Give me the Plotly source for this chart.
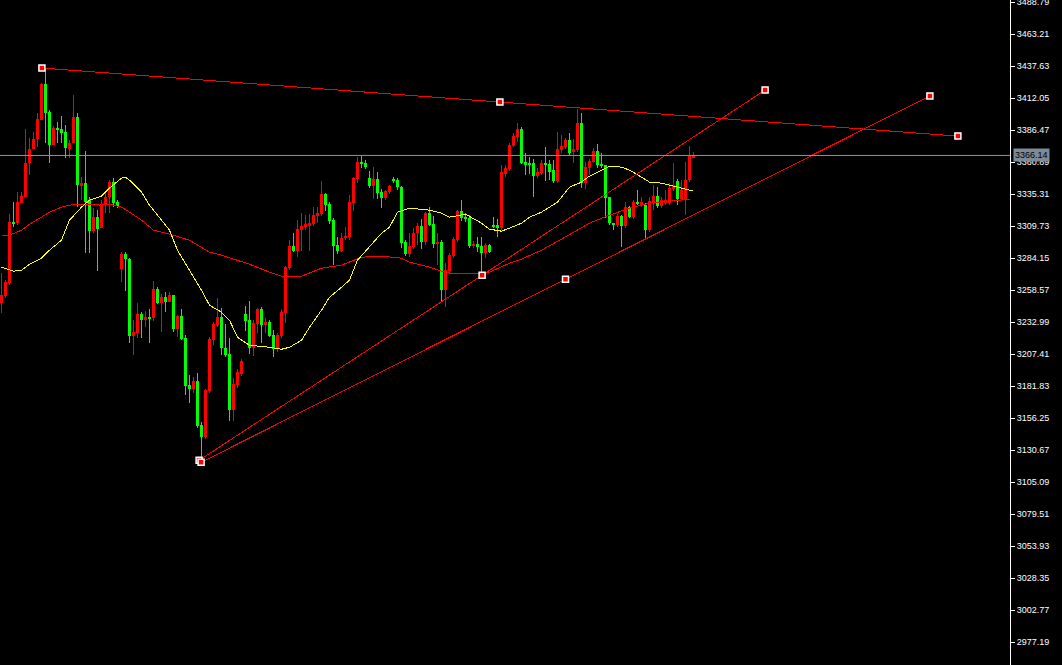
import plotly.graph_objects as go

# ---------------- data ----------------
opens = [3248.0,3253.6,3264.0,3312.8,3312.0,3328.0,3332.8,3360.0,3371.2,3379.2,
3394.4,3423.2,3400.8,3374.4,3388.0,3387.2,3384.8,3371.2,3376.0,3396.8,
3341.6,3344.0,3330.4,3305.6,3316.8,3308.0,3326.4,3332.8,3344.8,3328.8,
3275.2,3287.2,3283.2,3221.6,3224.0,3239.2,3234.4,3236.8,3236.0,3259.2,
3248.0,3252.8,3248.8,3254.4,3227.2,3237.6,3220.0,3182.4,3179.2,3185.6,
3150.4,3140.8,3177.6,3218.4,3230.4,3236.8,3212.0,3207.2,3162.4,3182.4,
3191.2,3239.2,3234.4,3212.0,3231.2,3243.2,3230.4,3232.8,3222.4,3211.2,
3221.6,3240.0,3276.0,3293.6,3289.6,3306.4,3308.8,3309.6,3311.2,3317.6,
3319.2,3335.2,3327.2,3314.4,3294.4,3289.6,3300.0,3300.8,3328.0,3347.2,
3360.8,3360.0,3348.0,3341.6,3347.2,3336.8,3332.0,3336.8,3347.2,3346.4,
3340.8,3296.8,3287.2,3292.8,3304.0,3309.6,3296.8,3320.0,3311.2,3296.0,
3296.8,3258.4,3273.6,3285.6,3298.4,3321.6,3316.8,3316.0,3293.6,3295.2,
3293.6,3288.0,3294.4,3310.4,3310.4,3308.0,3351.2,3355.2,3373.6,3380.8,
3387.2,3360.8,3360.0,3360.0,3349.6,3352.0,3360.0,3359.2,3354.4,3345.6,
3370.4,3372.8,3378.4,3368.8,3370.4,3392.0,3344.0,3356.0,3360.8,3369.6,
3359.2,3358.4,3332.8,3312.0,3310.4,3317.6,3309.6,3324.8,3316.8,3328.8,
3326.4,3326.4,3306.4,3328.8,3333.6,3325.6,3328.0,3328.0,3339.2,3345.6,
3331.2,3331.2,3346.4,3364.8]

highs = [3272.0,3266.4,3319.2,3328.8,3336.8,3336.8,3387.2,3380.0,3384.8,3400.0,
3424.0,3435.2,3402.4,3389.6,3392.8,3397.6,3390.4,3378.4,3414.4,3400.0,
3348.8,3369.6,3332.8,3324.0,3322.4,3330.4,3336.8,3346.4,3348.0,3330.4,
3288.8,3288.8,3284.0,3234.4,3248.0,3240.8,3241.6,3243.2,3265.6,3260.8,
3255.2,3256.8,3256.8,3254.4,3238.4,3243.2,3222.4,3190.4,3188.8,3192.0,
3152.8,3179.2,3220.8,3232.8,3252.0,3244.0,3231.2,3220.0,3188.0,3195.2,
3203.2,3245.6,3249.6,3234.4,3244.0,3244.8,3236.0,3234.4,3226.4,3224.0,
3243.2,3277.6,3298.4,3304.0,3314.4,3320.0,3318.4,3319.2,3324.8,3324.8,
3345.6,3336.0,3328.8,3316.0,3300.8,3304.0,3308.8,3334.4,3348.8,3364.8,
3365.6,3362.4,3353.6,3356.8,3352.8,3339.2,3338.4,3342.4,3348.8,3348.0,
3341.6,3298.4,3304.0,3308.0,3312.0,3315.2,3320.8,3324.8,3317.6,3304.0,
3298.4,3280.0,3288.0,3300.8,3322.4,3330.4,3320.0,3318.4,3297.6,3300.8,
3300.8,3296.0,3295.2,3316.8,3315.2,3358.4,3358.4,3376.0,3384.0,3392.0,
3388.8,3368.0,3364.8,3363.2,3356.0,3362.4,3372.8,3362.4,3362.4,3384.8,
3382.4,3380.0,3384.0,3379.2,3403.2,3400.0,3360.8,3363.2,3372.0,3375.2,
3368.0,3358.4,3332.8,3312.0,3319.2,3318.4,3328.8,3325.6,3330.4,3338.4,
3332.8,3328.0,3332.8,3342.4,3340.8,3332.8,3338.4,3344.0,3360.0,3347.2,
3346.4,3360.8,3373.6,3368.8]

lows = [3240.0,3252.0,3262.4,3308.8,3310.4,3328.0,3332.8,3350.4,3371.2,3372.8,
3394.4,3376.0,3360.0,3374.4,3376.0,3376.0,3364.0,3364.0,3376.0,3324.8,
3330.4,3288.0,3288.0,3304.0,3273.6,3308.0,3320.0,3320.0,3324.8,3324.0,
3264.8,3257.6,3216.0,3206.4,3220.0,3220.0,3228.8,3216.0,3233.6,3247.2,
3224.8,3240.8,3248.8,3224.8,3220.8,3218.4,3174.4,3168.0,3176.0,3148.0,
3123.2,3139.2,3176.0,3214.4,3228.8,3206.4,3204.8,3153.6,3153.6,3180.0,
3189.6,3225.6,3207.2,3205.6,3224.0,3216.0,3224.0,3220.8,3204.8,3208.8,
3220.0,3232.0,3274.4,3288.8,3284.8,3289.6,3306.4,3289.6,3309.6,3312.0,
3317.6,3321.6,3311.2,3278.4,3287.2,3288.8,3298.4,3298.4,3321.6,3344.0,
3356.0,3355.2,3340.0,3331.2,3331.2,3324.0,3330.4,3335.2,3344.0,3338.4,
3292.0,3285.6,3284.8,3291.2,3294.4,3291.2,3294.4,3309.6,3292.0,3278.4,
3249.6,3244.8,3272.0,3284.0,3296.8,3313.6,3312.8,3292.0,3292.0,3288.8,
3270.4,3284.0,3288.0,3308.0,3300.8,3306.4,3348.8,3353.6,3372.8,3376.8,
3359.2,3350.4,3351.2,3332.8,3348.0,3350.4,3345.6,3346.4,3344.0,3344.0,
3368.0,3371.2,3366.4,3360.0,3368.8,3340.0,3339.2,3350.4,3360.0,3356.0,
3356.0,3316.0,3310.4,3306.4,3308.8,3292.8,3308.0,3316.0,3315.2,3326.4,
3324.8,3300.0,3304.8,3322.4,3324.0,3324.0,3326.4,3326.4,3337.6,3326.4,
3330.4,3318.4,3344.8,3364.0]

closes = [3254.4,3264.8,3312.8,3312.0,3328.8,3333.6,3360.0,3371.2,3379.2,3395.2,
3423.2,3400.0,3374.4,3388.0,3386.4,3384.0,3372.0,3376.0,3396.8,3342.4,
3344.0,3328.8,3305.6,3316.8,3307.2,3327.2,3332.8,3344.8,3328.0,3325.6,
3287.2,3283.2,3221.6,3224.8,3239.2,3234.4,3236.8,3236.0,3259.2,3248.0,
3252.8,3248.8,3254.4,3227.2,3237.6,3219.2,3181.6,3179.2,3185.6,3149.6,
3140.8,3178.4,3219.2,3231.2,3236.8,3212.0,3206.4,3162.4,3183.2,3192.8,
3201.6,3233.6,3212.0,3232.0,3243.2,3230.4,3232.8,3221.6,3211.2,3222.4,
3240.8,3276.8,3293.6,3289.6,3307.2,3309.6,3311.2,3312.0,3318.4,3320.0,
3335.2,3326.4,3313.6,3293.6,3289.6,3300.0,3301.6,3328.8,3348.0,3360.8,
3360.0,3356.8,3341.6,3347.2,3336.0,3332.0,3337.6,3341.6,3345.6,3340.8,
3296.0,3287.2,3293.6,3304.0,3309.6,3296.8,3320.0,3310.4,3295.2,3296.8,
3258.4,3274.4,3286.4,3299.2,3321.6,3316.0,3315.2,3293.6,3295.2,3292.8,
3288.0,3294.4,3288.8,3308.8,3308.0,3352.8,3356.0,3374.4,3381.6,3387.2,
3360.0,3358.4,3359.2,3349.6,3352.8,3360.0,3359.2,3352.8,3345.6,3371.2,
3373.6,3378.4,3368.0,3371.2,3392.0,3344.0,3356.8,3361.6,3369.6,3358.4,
3357.6,3332.0,3312.0,3310.4,3317.6,3309.6,3324.8,3316.8,3328.8,3327.2,
3328.8,3306.4,3329.6,3333.6,3325.6,3330.4,3330.4,3340.0,3342.4,3331.2,
3338.4,3346.4,3365.6,3366.14]

# fast moving average (yellow), sampled at bar indices
ma_fast_idx = [0,3,5,7,10,12,15,17,20,22,25,27,30,31,32,35,37,40,42,44,47,50,52,55,57,59,62,65,67,70,
               72,75,77,80,82,85,87,89,92,95,97,99,102,107,110,112,116,120,122,125,127,130,132,135,137,
               139,140,142,145,147,150,152,155,157,160,162,165,167,170,173]
ma_fast = [3276.8,3273.6,3274.4,3279.2,3284.0,3290.4,3298.4,3314.4,3324.8,3330.4,3333.6,3340.0,3348.0,3348.8,
           3346.4,3336.8,3326.4,3314.4,3306.4,3290.4,3274.4,3258.4,3246.4,3240.8,3234.4,3220.8,3214.4,3213.6,
           3212.8,3211.2,3212.8,3218.4,3228.8,3242.4,3252.8,3260.8,3266.4,3282.4,3292.8,3304.0,3308.8,3320.8,
           3324.0,3322.4,3320.0,3316.8,3319.2,3312.0,3307.2,3305.6,3308.0,3312.0,3316.8,3320.8,3324.8,3328.8,
           3332.8,3340.8,3344.8,3349.6,3354.4,3357.6,3356.8,3354.4,3348.8,3344.8,3344.0,3342.4,3340.0,3337.6]

# slow moving average (red)
ma_slow_idx = [0,2,5,7,10,12,15,17,20,25,27,30,32,35,38,42,47,50,52,55,59,62,67,70,75,77,80,85,87,90,95,
               100,102,105,107,110,112,117,120,122,125,127,130,135,140,145,147,152,157,162,167,172]
ma_slow = [3302.4,3302.4,3306.4,3311.2,3316.8,3320.8,3324.8,3326.4,3327.2,3326.4,3327.2,3324.8,3320.8,3314.4,
           3306.4,3303.2,3298.4,3292.8,3288.8,3286.4,3282.4,3279.2,3272.8,3269.6,3269.6,3272.0,3276.0,3278.4,
           3280.8,3284.8,3285.6,3284.0,3280.8,3278.4,3276.8,3273.6,3272.0,3272.0,3271.2,3272.8,3276.8,3280.0,
           3283.2,3290.4,3299.2,3308.0,3312.0,3318.4,3324.0,3328.0,3329.6,3331.2]

# trend lines: (start bar, start price, end bar, end price)
trend_lines = [
    (10.1, 3436.0, 239.1, 3381.6),
    (49.4, 3122.4, 190.9, 3418.4),
    (49.9, 3120.8, 232.1, 3413.6),
]

last_price = 3366.14
tick_values = [3488.79 - k * 25.58 for k in range(21)]
tick_labels = ["%.2f" % v for v in tick_values]

UP = "#ff0000"
DOWN = "#00ff00"

# ---------------- build figure ----------------
n = len(opens)
idx = list(range(n))
fig = go.Figure()

# wicks
for col, is_up in ((UP, True), (DOWN, False)):
    xs, ys = [], []
    for i in idx:
        if (closes[i] >= opens[i]) == is_up:
            xs += [i, i, None]
            ys += [lows[i], highs[i], None]
    fig.add_trace(go.Scatter(x=xs, y=ys, mode="lines", line=dict(color=col, width=1),
                             hoverinfo="skip"))

# bodies
bases = [min(o, c) for o, c in zip(opens, closes)]
heights = [max(abs(c - o), 0.9) for o, c in zip(opens, closes)]
colors = [UP if c >= o else DOWN for o, c in zip(opens, closes)]
fig.add_trace(go.Bar(x=idx, y=heights, base=bases, width=0.72,
                     marker=dict(color=colors, line=dict(width=0))))

# moving averages
fig.add_trace(go.Scatter(x=ma_slow_idx, y=ma_slow, mode="lines",
                         line=dict(color="#ff0000", width=1)))
fig.add_trace(go.Scatter(x=ma_fast_idx, y=ma_fast, mode="lines",
                         line=dict(color="#ffff00", width=1)))

# trend lines with anchor squares
for x0, y0, x1, y1 in trend_lines:
    fig.add_trace(go.Scatter(x=[x0, x1], y=[y0, y1], mode="lines",
                             line=dict(color="#ff0000", width=1)))
    fig.add_trace(go.Scatter(x=[x0, (x0 + x1) / 2, x1], y=[y0, (y0 + y1) / 2, y1],
                             mode="markers",
                             marker=dict(symbol="square", size=6, color="#ff0000",
                                         line=dict(color="#ffffff", width=1.5))))

# last price line
fig.add_hline(y=last_price, line=dict(color="#8a96a3", width=1))
fig.add_annotation(x=1, xref="paper", y=last_price, yref="y", text="%.2f" % last_price,
                   showarrow=False, xanchor="left", yanchor="middle", xshift=3,
                   bgcolor="#7d8b99", borderpad=1,
                   font=dict(family="Liberation Sans", size=9, color="#000000"))

fig.update_layout(
    width=1062, height=665,
    margin=dict(l=0, r=52, t=0, b=0, autoexpand=False),
    paper_bgcolor="#000000", plot_bgcolor="#000000",
    showlegend=False, bargap=0,
    xaxis=dict(range=[-0.375, 252.125], visible=False, fixedrange=True, automargin=False),
    yaxis=dict(range=[2958.81, 3490.39], side="right", tickvals=tick_values,
               ticktext=tick_labels, ticks="outside", ticklen=4, tickcolor="#ffffff",
               tickwidth=1, showline=True, linecolor="#ffffff", linewidth=1,
               showgrid=False, zeroline=False, ticklabeloverflow="allow", automargin=False,
               tickfont=dict(family="Liberation Sans", size=9, color="#ffffff")),
)

post = ("document.body.style.margin='0';"
        "document.querySelectorAll('.scatterlayer path.js-line, .barlayer path')"
        ".forEach(function(p){p.style.shapeRendering='crispEdges';});")
fig.write_html("out.html", config={"displayModeBar": False}, post_script=post)
